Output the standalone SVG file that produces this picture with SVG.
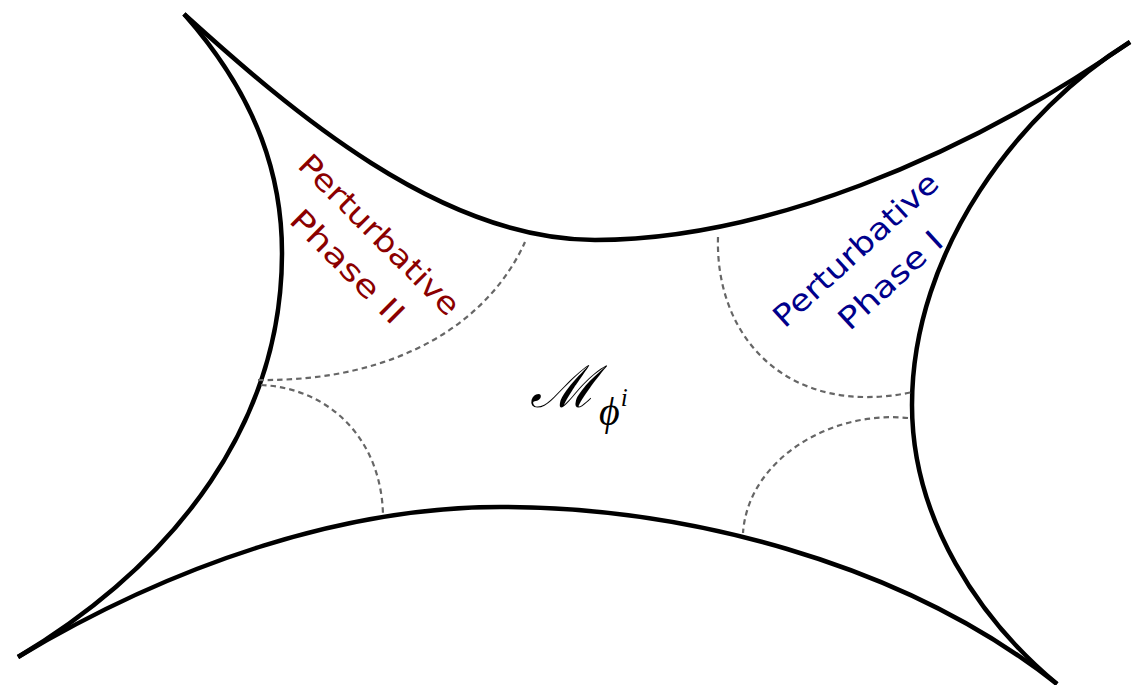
<svg xmlns="http://www.w3.org/2000/svg" width="1132" height="685" viewBox="0 0 1132 685">
  <style>
    .edge { fill: none; stroke: #000; stroke-width: 4.5; stroke-linecap: butt; }
    .bound { fill: none; stroke: #666; stroke-width: 2.2; stroke-dasharray: 5.5 4; }
    .hand { font-family: "DejaVu Sans", "Noto Sans", sans-serif; font-size: 30px; text-anchor: middle; }
    .red { fill: #8b0000; }
    .blue { fill: #00008b; }
    .math { font-family: "Liberation Serif", "DejaVu Serif", serif; font-style: italic; fill: #000; }
  </style>
  <rect width="1132" height="685" fill="#fff"/>
  <g id="moduli-space-edges">
    <path id="edge-top" class="edge" d="M184,14 C290,110 440,240 595,240 C760,240 960,160 1130,42"/>
    <path id="edge-left" class="edge" d="M184,14 C260,100 282,180 282,253 C282,420 180,560 18,657"/>
    <path id="edge-bottom" class="edge" d="M18,657 C180,560 350,507 500,507 C680,507 900,560 1057,684"/>
    <path id="edge-right" class="edge" d="M1130,42 C1020,110 912,250 912,405 C912,520 980,620 1057,684"/>
  </g>
  <g id="phase-boundaries">
    <path class="bound" d="M258,380 C400,382 490,320 525,242"/>
    <path class="bound" d="M261,385 C330,388 382,440 383,516"/>
    <path class="bound" d="M718,237 C715,340 790,418 913,392"/>
    <path class="bound" d="M908,418 C830,410 748,460 743,533"/>
  </g>
  <g id="phase-II" transform="translate(379,235) rotate(45)">
    <text class="hand red" x="0" y="10" textLength="214" lengthAdjust="spacingAndGlyphs">Perturbative</text>
    <text class="hand red" x="0" y="55" textLength="148" lengthAdjust="spacingAndGlyphs">Phase II</text>
  </g>
  <g id="phase-I" transform="translate(856,250) rotate(-42.5)">
    <text class="hand blue" x="0" y="10" textLength="212" lengthAdjust="spacingAndGlyphs">Perturbative</text>
    <text class="hand blue" x="5" y="56" textLength="130" lengthAdjust="spacingAndGlyphs">Phase I</text>
  </g>
  <g id="moduli-label">
    <text class="math" x="530" y="407" font-size="58">ℳ<tspan dx="2" dy="18" font-size="40">ϕ</tspan><tspan dx="1" dy="-19" font-size="25">i</tspan></text>
  </g>
</svg>
